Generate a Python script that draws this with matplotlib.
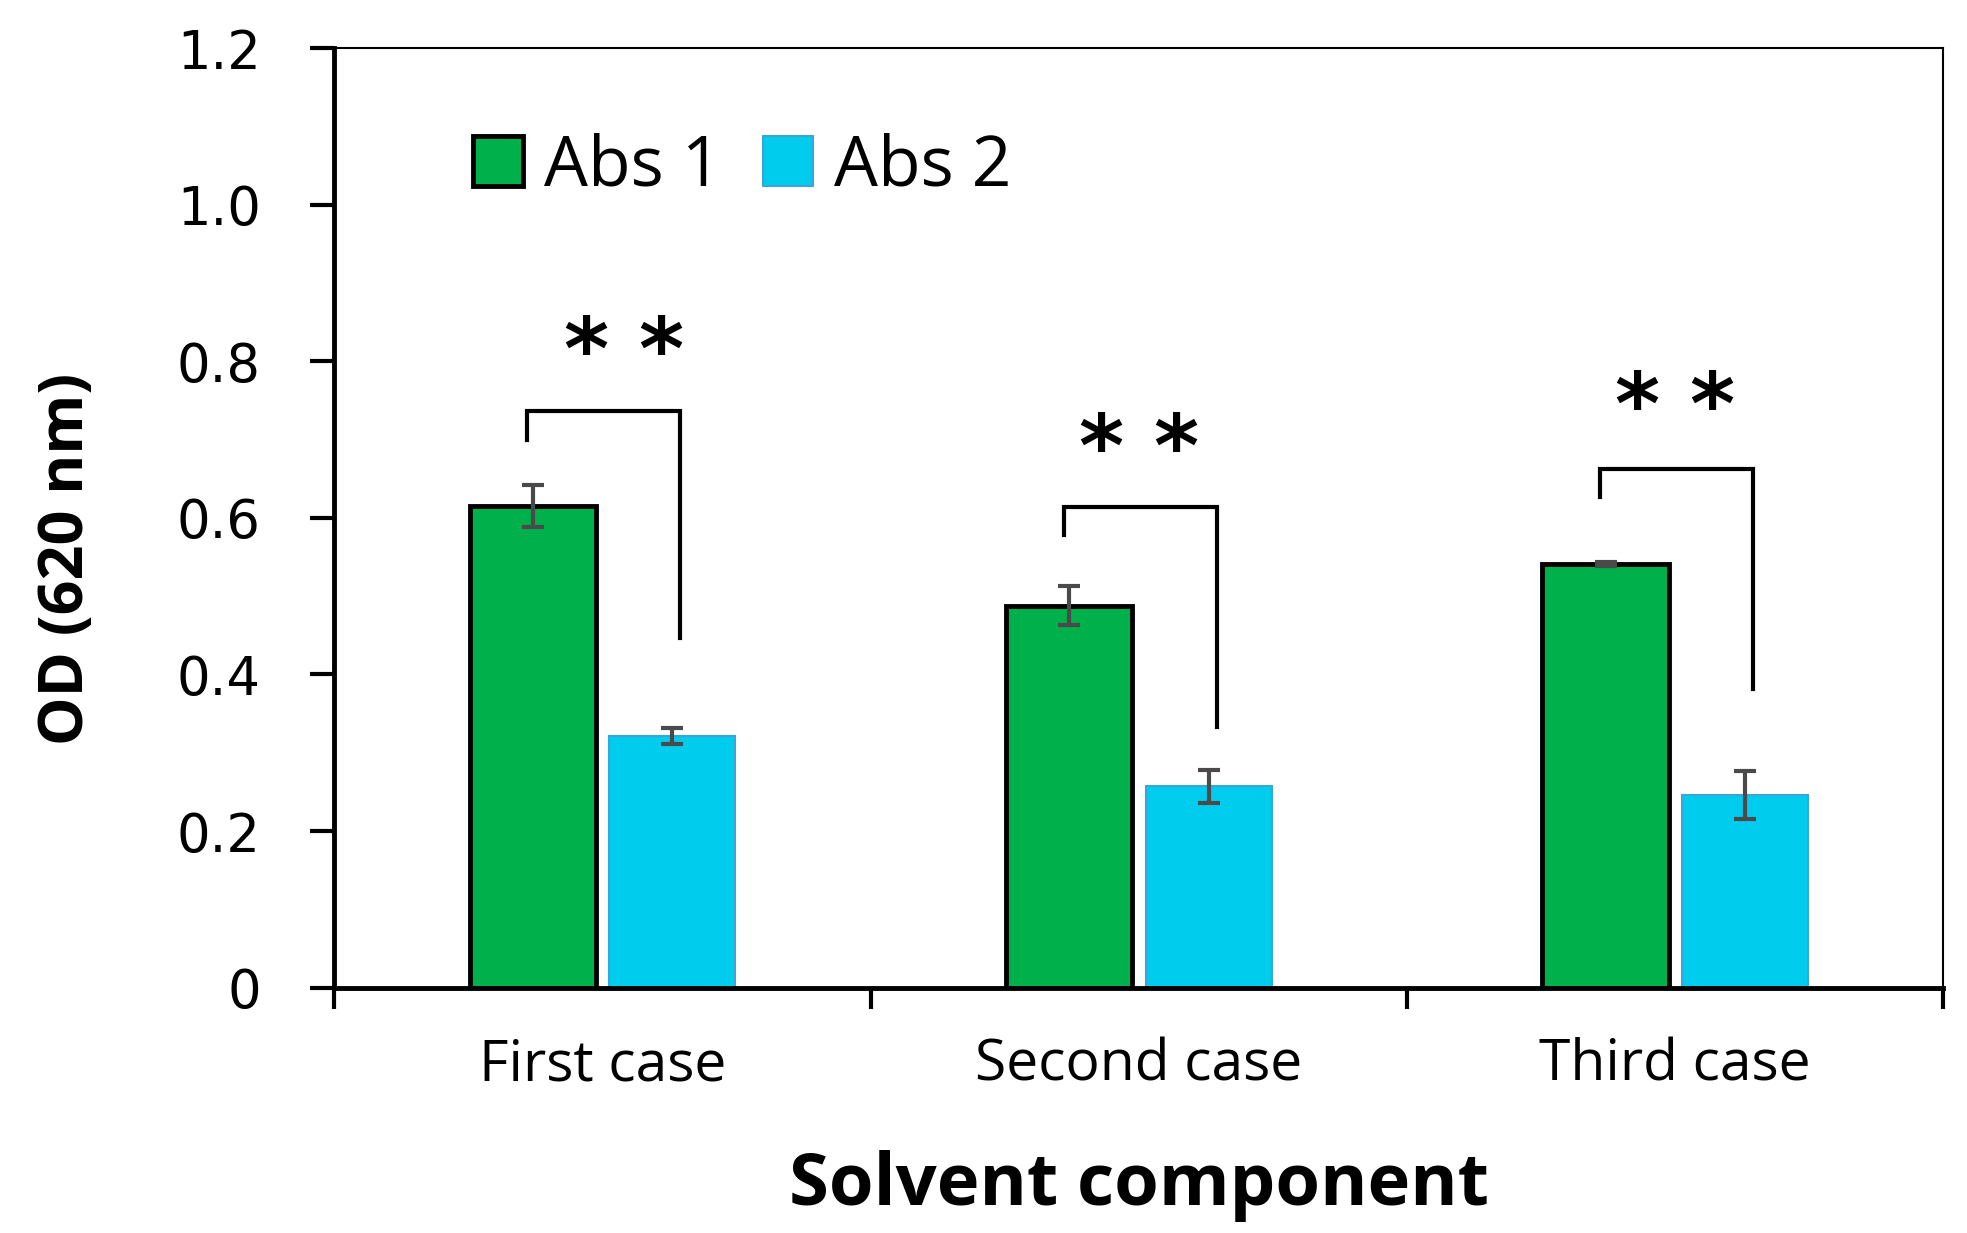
"""
plot.py

Grouped bar chart of OD (620 nm) for three solvent cases, two absorbance
series with error bars and significance brackets.
"""
import numpy as np
import matplotlib
matplotlib.use('Agg')
import matplotlib.pyplot as plt
from matplotlib.patches import Patch


# === Data =====================================================================

categories = ['First case', 'Second case', 'Third case']
abs1 = [0.615, 0.488, 0.541]
abs1_err = [0.027, 0.025, 0.002]
abs2 = [0.321, 0.257, 0.246]
abs2_err = [0.010, 0.021, 0.031]

# significance brackets: top of bracket, end of left leg, end of right leg
bracket_top = [0.736, 0.614, 0.663]
bracket_left = [0.699, 0.578, 0.627]
bracket_right = [0.447, 0.333, 0.382]
star_level = [0.808, 0.683, 0.737]
star_text = ['* *', '* *', '* *']

y_ticks = [0, 0.2, 0.4, 0.6, 0.8, 1.0, 1.2]
y_tick_labels = ['0', '0.2', '0.4', '0.6', '0.8', '1.0', '1.2']


# === Style ====================================================================

class PlotStyle:
    """
    Colours and sizes for the figure.
    """
    green = '#00B04A'
    cyan = '#00CCEE'
    cyan_edge = '#3AA6D6'
    err = '#4A4A4A'
    bar_width = 0.235
    offset = 0.13
    star_shift = [0.04, 0.0, 0.0]   # horizontal nudge of the star labels


# === Plot =====================================================================

fig = plt.figure(figsize=(19.67, 12.33), dpi=100)
ax = fig.add_axes([0.170, 0.199, 0.818, 0.762])

x = np.arange(len(categories))

ax.bar(x - PlotStyle.offset, abs1, width=PlotStyle.bar_width,
       color=PlotStyle.green, edgecolor='black', linewidth=3.5, zorder=2)
ax.bar(x + PlotStyle.offset, abs2, width=PlotStyle.bar_width,
       color=PlotStyle.cyan, edgecolor=PlotStyle.cyan_edge, linewidth=1.5, zorder=2)
ax.errorbar(x - PlotStyle.offset, abs1, yerr=abs1_err, fmt='none',
            ecolor=PlotStyle.err, elinewidth=3, capsize=8, capthick=3, zorder=3)
ax.errorbar(x + PlotStyle.offset, abs2, yerr=abs2_err, fmt='none',
            ecolor=PlotStyle.err, elinewidth=3, capsize=8, capthick=3, zorder=3)

# significance brackets and stars
for idx in range(len(categories)):
    xl = x[idx] - 0.14
    xr = x[idx] + 0.145
    ax.plot([xl, xl, xr, xr],
            [bracket_left[idx], bracket_top[idx], bracket_top[idx], bracket_right[idx]],
            color='black', linewidth=3, solid_joinstyle='miter', zorder=2)
    ax.text(x[idx] + PlotStyle.star_shift[idx], star_level[idx], star_text[idx],
            ha='center', va='center', fontsize=62, fontweight='bold',
            family='DejaVu Sans', color='black')

ax.set_xlim(-0.5, len(categories) - 0.5)
ax.set_ylim(0, 1.2)

# category boundary ticks, labels centred on minor ticks
ax.set_xticks(np.arange(len(categories) + 1) - 0.5)
ax.set_xticklabels([])
ax.set_xticks(x, minor=True)
ax.set_xticklabels(categories, minor=True, fontsize=41, family='Open Sans')
ax.tick_params(axis='x', which='major', direction='out', length=15, width=3)
ax.tick_params(axis='x', which='minor', length=0, pad=36)

ax.set_yticks(y_ticks)
ax.set_yticklabels(y_tick_labels, fontsize=38, family='DejaVu Sans')
ax.tick_params(axis='y', direction='out', length=17, width=3, pad=36)

for side in ['left', 'bottom']:
    ax.spines[side].set_linewidth(3.5)
for side in ['top', 'right']:
    ax.spines[side].set_linewidth(1.5)

ax.set_xlabel('Solvent component', fontsize=52, family='Open Sans',
              fontweight='bold', labelpad=40)
ax.set_ylabel('OD (620 nm)', fontsize=44, family='Open Sans',
              fontweight='bold')
ax.yaxis.set_label_coords(-0.147, 0.456)

handles = [Patch(facecolor=PlotStyle.green, edgecolor='black', linewidth=3.5),
           Patch(facecolor=PlotStyle.cyan, edgecolor=PlotStyle.cyan_edge, linewidth=1.5)]
ax.legend(handles, ['Abs 1', 'Abs 2'], ncol=2, frameon=False,
          loc='center left', bbox_to_anchor=(0.086, 0.873),
          prop={'family': 'Open Sans', 'size': 50},
          handlelength=0.72, handleheight=0.72, handletextpad=0.3,
          columnspacing=0.6, borderpad=0, borderaxespad=0)

fig.savefig('out.png', dpi=100)
plt.close(fig)
